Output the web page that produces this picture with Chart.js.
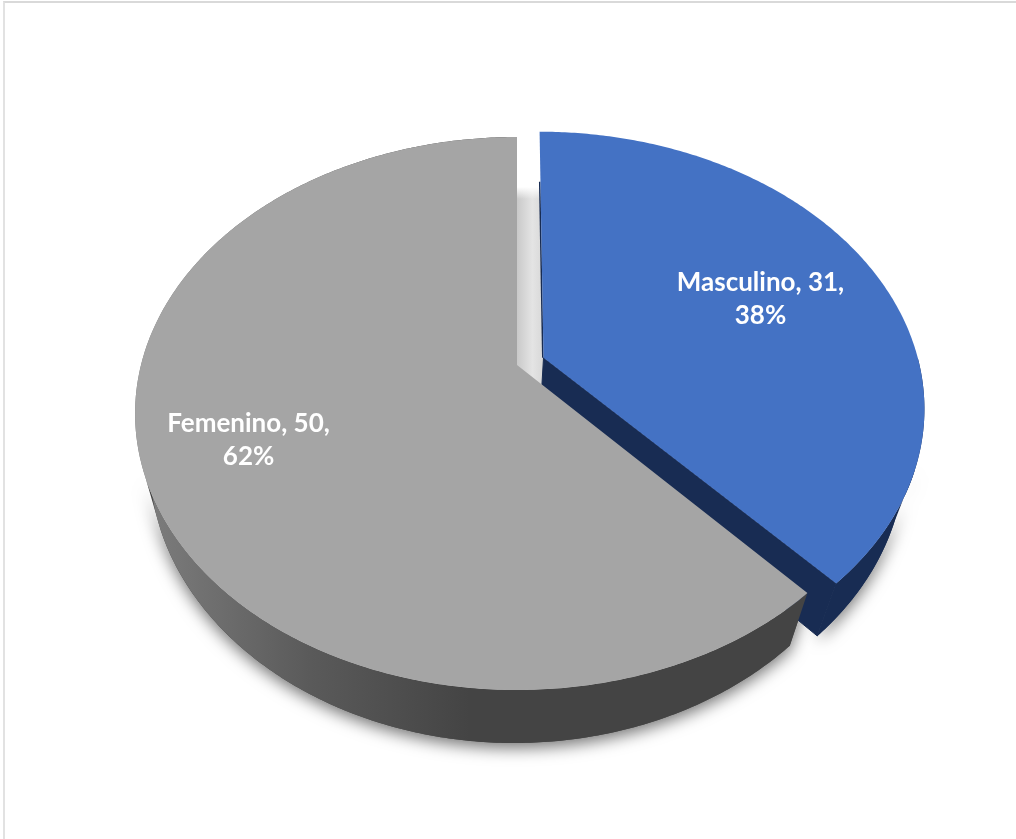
<!DOCTYPE html>
<html>
<head>
<meta charset="utf-8">
<title>Sexo</title>
<script src="https://cdn.jsdelivr.net/npm/chart.js@4"></script>
<style>
  html, body { margin: 0; padding: 0; background: #fff; overflow: hidden; }
  #frame { position: absolute; left: 3px; top: 1px; right: 0; bottom: 0; border-top: 2px solid #d9d9d9; border-left: 2px solid #e2e2e2; }
  #chart { position: absolute; left: 0; top: 0; }
</style>
</head>
<body>
<div id="frame"></div>
<canvas id="chart" width="1016" height="839"></canvas>
<script>
// data
const categories = ['Masculino', 'Femenino'];
const counts = [31, 50];
const percents = ['38%', '62%'];
const sliceColors = ['#4472c4', '#a5a5a5'];
const wallColors = ['#182c53', '#444444'];
const explode = [0.076, 0];
const labelRadius = [0.65, 0.73];

// perspective of the disc: apex, half axes, foreshortening, vanishing point of the walls
const view = { ax: 517, ay: 365, a: 376, b: 268, k: 0.1754, vx: 470, vy: 1600 };

function project(X, Y) {
  const w = 1 - view.k * Y;
  return [view.ax + view.a * X / w, view.ay + view.b * Y / w];
}

function lower(p, Y) {
  const dy = 50 + 3 * (Y + 1) / 2;
  return [p[0] + (view.vx - p[0]) * dy / (view.vy - p[1]), p[1] + dy];
}

// point of a slice at radius r and angle a, with the explode shift
function slicePoint(arc, i, r, a) {
  const mid = (arc.startAngle + arc.endAngle) / 2;
  return { X: explode[i] * Math.cos(mid) + r * Math.cos(a), Y: explode[i] * Math.sin(mid) + r * Math.sin(a) };
}

function rimPoints(arc, i, from, to) {
  const pts = [];
  const steps = Math.max(2, Math.ceil(Math.abs(to - from) / 0.01));
  for (let s = 0; s <= steps; s++) {
    const q = slicePoint(arc, i, 1, from + (to - from) * s / steps);
    pts.push({ top: project(q.X, q.Y), Y: q.Y });
  }
  return pts;
}

function poly(ctx, pts) {
  ctx.beginPath();
  pts.forEach((p, n) => n ? ctx.lineTo(p[0], p[1]) : ctx.moveTo(p[0], p[1]));
  ctx.closePath();
}

function rimBand(ctx, arc, i, from, to) {
  const rim = rimPoints(arc, i, from, to);
  const up = rim.map(p => p.top);
  const down = rim.map(p => lower(p.top, p.Y)).reverse();
  poly(ctx, up.concat(down));
}

const pie3d = {
  id: 'pie3d',
  beforeDatasetsDraw(chart) {
    const ctx = chart.ctx;
    const arcs = chart.getDatasetMeta(0).data;
    const front = a => Math.min(Math.max(a, 0.4), Math.PI - 0.4);
    ctx.save();

    // soft shadow under the front of the walls
    arcs.forEach((arc, i) => {
      ctx.save();
      ctx.shadowColor = 'rgba(0,0,0,0.55)';
      ctx.shadowBlur = 16;
      ctx.shadowOffsetY = 5;
      ctx.fillStyle = wallColors[i];
      rimBand(ctx, arc, i, front(arc.startAngle), front(arc.endAngle));
      ctx.fill();
      ctx.restore();
    });

    // light inner wall of the grey slice, seen in the gap
    const grey = arcs[1];
    const g0 = slicePoint(grey, 1, 1, grey.endAngle);
    const rimTop = lower(project(g0.X, g0.Y), g0.Y);
    const apex = project(0, 0);
    const bandW = 28;
    const band = ctx.createLinearGradient(apex[0], 0, apex[0] + bandW, 0);
    band.addColorStop(0, '#c9c9c9');
    band.addColorStop(0.55, '#e4e4e4');
    band.addColorStop(1, '#d6d6d6');
    ctx.fillStyle = band;
    poly(ctx, [[apex[0], rimTop[1]], [apex[0] + bandW, rimTop[1]], [apex[0] + bandW, apex[1] + 40], [apex[0], apex[1] + 40]]);
    ctx.fill();
    const fade = ctx.createLinearGradient(0, rimTop[1], 0, rimTop[1] + 12);
    fade.addColorStop(0, 'rgba(255,255,255,1)');
    fade.addColorStop(1, 'rgba(255,255,255,0)');
    ctx.fillStyle = fade;
    ctx.fillRect(apex[0], rimTop[1], bandW, 12);

    // blue walls: outer rim only on the visible front part, then the cut side
    const blue = arcs[0];
    ctx.fillStyle = wallColors[0];
    ctx.strokeStyle = wallColors[0];
    ctx.lineWidth = 1;
    rimBand(ctx, blue, 0, Math.max(blue.startAngle, 0), blue.endAngle);
    ctx.fill();
    const bc = slicePoint(blue, 0, 0, 0);
    const bApex = project(bc.X, bc.Y);
    const bEnd = slicePoint(blue, 0, 1, blue.endAngle);
    const bTip = project(bEnd.X, bEnd.Y);
    poly(ctx, [bApex, bTip, lower(bTip, bEnd.Y), lower(bApex, bc.Y)]);
    ctx.fill();
    ctx.stroke();
    // thin dark sliver down the left side of the blue slice
    const bStart = slicePoint(blue, 0, 1, blue.startAngle);
    const bRim = project(bStart.X, bStart.Y);
    const bRimLow = lower(bRim, bStart.Y);
    const t = (bRimLow[1] - bRim[1]) / (bApex[1] - bRim[1]);
    const edgeX = bRim[0] + (bApex[0] - bRim[0]) * t;
    poly(ctx, [bApex, [edgeX, bRimLow[1]], [edgeX - 1.5, bRimLow[1]], [bApex[0] - 1.5, bApex[1]]]);
    ctx.fill();

    // grey wall, darker toward the front
    const wall = ctx.createLinearGradient(150, 0, 470, 0);
    wall.addColorStop(0, '#7c7c7c');
    wall.addColorStop(0.5, '#5a5a5a');
    wall.addColorStop(1, wallColors[1]);
    ctx.fillStyle = wall;
    rimBand(ctx, grey, 1, grey.startAngle, grey.endAngle);
    ctx.fill();

    // top faces, grey then blue
    [1, 0].forEach(i => {
      const arc = arcs[i];
      const c = slicePoint(arc, i, 0, 0);
      const rim = rimPoints(arc, i, arc.startAngle, arc.endAngle).map(p => p.top);
      ctx.fillStyle = sliceColors[i];
      poly(ctx, [project(c.X, c.Y)].concat(rim));
      ctx.fill();
    });

    // labels
    ctx.fillStyle = '#ffffff';
    ctx.font = 'bold 26px Lato';
    ctx.textAlign = 'center';
    ctx.textBaseline = 'middle';
    arcs.forEach((arc, i) => {
      const mid = (arc.startAngle + arc.endAngle) / 2;
      const q = slicePoint(arc, i, labelRadius[i], mid);
      const p = project(q.X, q.Y);
      ctx.fillText(categories[i] + ', ' + counts[i] + ',', p[0], p[1] - 15.5);
      ctx.fillText(percents[i], p[0], p[1] + 17.5);
    });

    ctx.restore();
    return false;
  }
};

new Chart(document.getElementById('chart'), {
  type: 'pie',
  data: {
    labels: categories,
    datasets: [{ data: counts, backgroundColor: sliceColors, borderWidth: 0 }]
  },
  options: {
    responsive: false,
    animation: false,
    plugins: { legend: { display: false }, tooltip: { enabled: false } }
  },
  plugins: [pie3d]
});
</script>
</body>
</html>
